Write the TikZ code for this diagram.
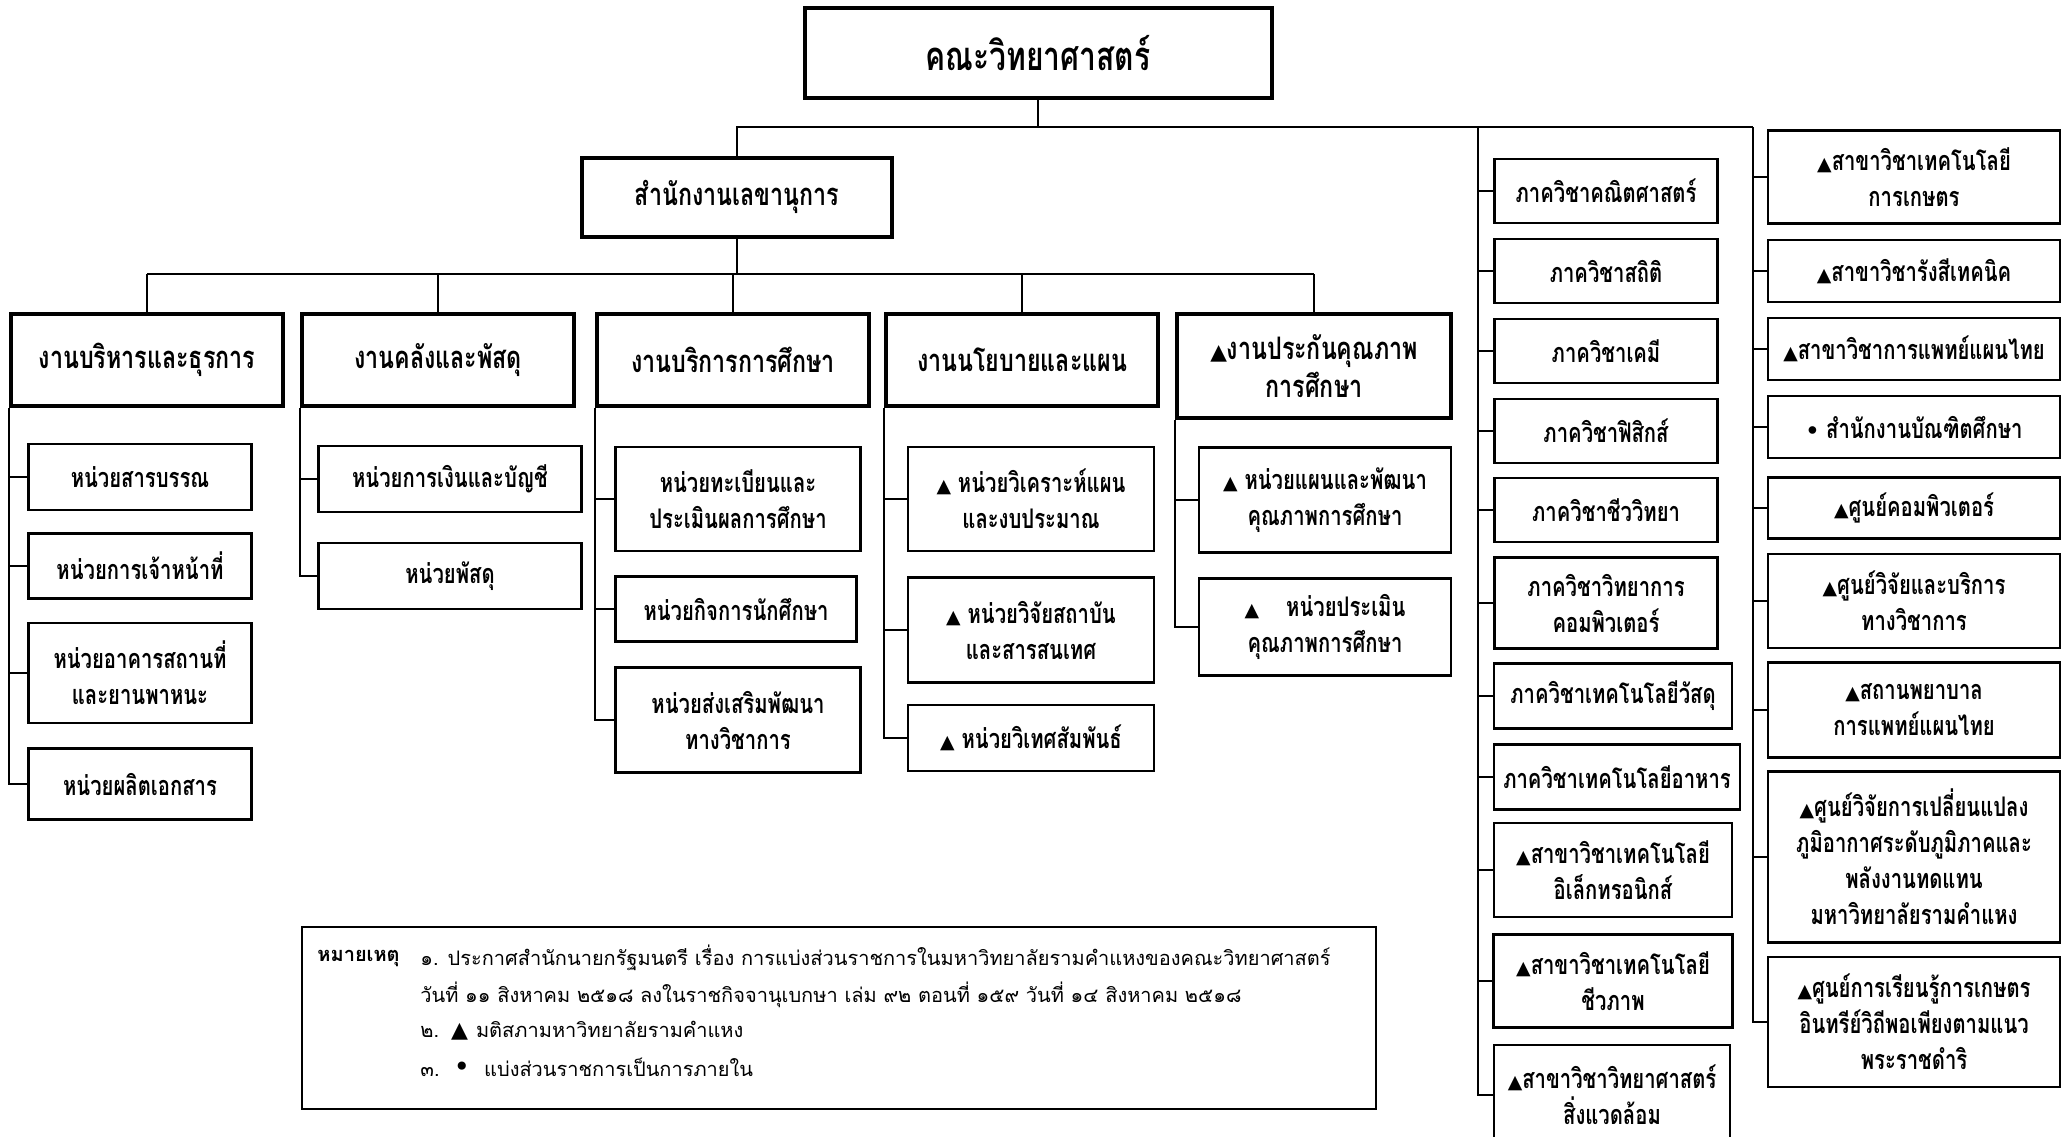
\documentclass[tikz,border=0pt]{standalone}
\usepackage{fontspec}
\usepackage{graphicx}
\setmainfont[Script=Thai, FakeStretch=0.75]{Loma}
\newfontfamily\notefont[Script=Thai]{Loma}
\newfontfamily\symfont{DejaVu Sans}
\newcommand\tmark{\scalebox{0.7}{\symfont ▲}}
\newcommand\bmark{\scalebox{0.8}{\symfont •}}
\tikzset{
  topbox/.style={draw, line width=2pt, inner sep=0pt, align=center, font={\bfseries\fontsize{20}{24}\selectfont}},
  headbox/.style={draw, line width=2pt, inner sep=0pt, align=center, font={\bfseries\fontsize{15.5}{19}\selectfont}},
  unitbox/.style={draw, line width=1.2pt, inner sep=0pt, align=center, font={\bfseries\fontsize{13.5}{18}\selectfont}},
  notebox/.style={draw, line width=1.2pt, inner sep=0pt},
  notetext/.style={inner sep=0pt, anchor=west, font={\notefont\fontsize{10}{12}\selectfont}},
  link/.style={line width=1pt},
  wh/.style 2 args={minimum width=#1*0.5pt, minimum height=#2*0.5pt},
}
\begin{document}
\begin{tikzpicture}[x=0.5pt, y=-0.5pt]
  \clip (0,0) rectangle (2070,1136);
  \fill[white] (0,0) rectangle (2070,1136);

  \node[topbox, wh={467}{90}] (top) at (1038,53) {คณะวิทยาศาสตร์};
  \node[headbox, wh={310}{79}] (sec) at (737,197) {สำนักงานเลขานุการ};

  \node[headbox, wh={272}{92}] (w1) at (147,360) {งานบริหารและธุรการ};
  \node[headbox, wh={272}{92}] (w2) at (438,360) {งานคลังและพัสดุ};
  \node[headbox, wh={272}{92}] (w3) at (733,360) {งานบริการการศึกษา};
  \node[headbox, wh={272}{92}] (w4) at (1022,360) {งานนโยบายและแผน};
  \node[headbox, wh={274}{104}] (w5) at (1314,366) {\tmark งานประกันคุณภาพ\\การศึกษา};

  \node[unitbox, wh={223}{66}] (c11) at (140,477) {หน่วยสารบรรณ};
  \node[unitbox, wh={223}{65}] (c12) at (140,566) {หน่วยการเจ้าหน้าที่};
  \node[unitbox, wh={223}{100}] (c13) at (140,673) {หน่วยอาคารสถานที่\\และยานพาหนะ};
  \node[unitbox, wh={223}{71}] (c14) at (140,784) {หน่วยผลิตเอกสาร};

  \node[unitbox, wh={263}{66}] (c21) at (450,479) {หน่วยการเงินและบัญชี};
  \node[unitbox, wh={263}{66}] (c22) at (450,576) {หน่วยพัสดุ};

  \node[unitbox, wh={245}{104}] (c31) at (738,499) {หน่วยทะเบียนและ\\ประเมินผลการศึกษา};
  \node[unitbox, wh={241}{65}] (c32) at (736,609) {หน่วยกิจการนักศึกษา};
  \node[unitbox, wh={245}{105}] (c33) at (738,720) {หน่วยส่งเสริมพัฒนา\\ทางวิชาการ};

  \node[unitbox, wh={246}{104}] (c41) at (1031,499) {\tmark\ หน่วยวิเคราะห์แผน\\และงบประมาณ};
  \node[unitbox, wh={246}{105}] (c42) at (1031,630) {\tmark\ หน่วยวิจัยสถาบัน\\และสารสนเทศ};
  \node[unitbox, wh={246}{66}] (c43) at (1031,738) {\tmark\ หน่วยวิเทศสัมพันธ์};

  \node[unitbox, wh={252}{105}] (c51) at (1325,500) {\tmark\ หน่วยแผนและพัฒนา\\คุณภาพการศึกษา};
  \node[unitbox, wh={252}{97}] (c52) at (1325,627) {\tmark\quad หน่วยประเมิน\\คุณภาพการศึกษา};

  \node[unitbox, wh={223}{64}] (d1) at (1606,191) {ภาควิชาคณิตศาสตร์};
  \node[unitbox, wh={223}{64}] (d2) at (1606,271) {ภาควิชาสถิติ};
  \node[unitbox, wh={223}{64}] (d3) at (1606,351) {ภาควิชาเคมี};
  \node[unitbox, wh={223}{64}] (d4) at (1606,431) {ภาควิชาฟิสิกส์};
  \node[unitbox, wh={223}{64}] (d5) at (1606,510) {ภาควิชาชีววิทยา};
  \node[unitbox, wh={223}{91}] (d6) at (1606,603) {ภาควิชาวิทยาการ\\คอมพิวเตอร์};
  \node[unitbox, wh={238}{65}] (d7) at (1613,696) {ภาควิชาเทคโนโลยีวัสดุ};
  \node[unitbox, wh={246}{65}] (d8) at (1617,777) {ภาควิชาเทคโนโลยีอาหาร};
  \node[unitbox, wh={238}{94}] (d9) at (1613,870) {\tmark สาขาวิชาเทคโนโลยี\\อิเล็กทรอนิกส์};
  \node[unitbox, wh={239}{93}] (d10) at (1613,981) {\tmark สาขาวิชาเทคโนโลยี\\ชีวภาพ};
  \node[unitbox, wh={236}{100}] (d11) at (1612,1095) {\tmark สาขาวิชาวิทยาศาสตร์\\สิ่งแวดล้อม};

  \node[unitbox, wh={292}{93}] (r1) at (1914,177) {\tmark สาขาวิชาเทคโนโลยี\\การเกษตร};
  \node[unitbox, wh={292}{62}] (r2) at (1914,271) {\tmark สาขาวิชารังสีเทคนิค};
  \node[unitbox, wh={292}{62}] (r3) at (1914,349) {\tmark สาขาวิชาการแพทย์แผนไทย};
  \node[unitbox, wh={292}{62}] (r4) at (1914,427) {\bmark\ สำนักงานบัณฑิตศึกษา};
  \node[unitbox, wh={292}{61}] (r5) at (1914,508) {\tmark ศูนย์คอมพิวเตอร์};
  \node[unitbox, wh={292}{94}] (r6) at (1914,601) {\tmark ศูนย์วิจัยและบริการ\\ทางวิชาการ};
  \node[unitbox, wh={292}{95}] (r7) at (1914,710) {\tmark สถานพยาบาล\\การแพทย์แผนไทย};
  \node[unitbox, wh={292}{171}] (r8) at (1914,857) {\tmark ศูนย์วิจัยการเปลี่ยนแปลง\\ภูมิอากาศระดับภูมิภาคและ\\พลังงานทดแทน\\มหาวิทยาลัยรามคำแหง};
  \node[unitbox, wh={292}{130}] (r9) at (1914,1022) {\tmark ศูนย์การเรียนรู้การเกษตร\\อินทรีย์วิถีพอเพียงตามแนว\\พระราชดำริ};

  \coordinate (jL) at (1478,127);
  \coordinate (jR) at (1753,127);
  \coordinate (jS) at (737,274);

  \draw[link] (top.south) -- (top.south |- jR);
  \draw[link] (sec.north) |- (jR);
  \foreach \i in {1,...,11} \draw[link] (jL) |- (d\i.west);
  \foreach \i in {1,...,9} \draw[link] (jR) |- (r\i.west);

  \draw[link] (sec.south) -- (jS);
  \draw[link] (w1.north |- jS) -- (w5.north |- jS);
  \foreach \i in {1,...,5} \draw[link] (w\i.north) -- (w\i.north |- jS);
  \foreach \c/\n in {1/4,2/2,3/3,4/3,5/2}
    \foreach \i in {1,...,\n} \draw[link] (w\c.south west) |- (c\c\i.west);

  \node[notebox, wh={1074}{182}] (note) at (839,1018) {};
  \node[notetext] (n0) at (317,958) {\bfseries หมายเหตุ};
  \node[notetext] (n1) at (420,958) {๑. ประกาศสำนักนายกรัฐมนตรี เรื่อง การแบ่งส่วนราชการในมหาวิทยาลัยรามคำแหงของคณะวิทยาศาสตร์};
  \node[notetext] (n2) at (420,995) {วันที่ ๑๑ สิงหาคม ๒๕๑๘ ลงในราชกิจจานุเบกษา เล่ม ๙๒ ตอนที่ ๑๕๙ วันที่ ๑๔ สิงหาคม ๒๕๑๘};
  \node[notetext] (n3) at (420,1031) {๒.\hspace{6pt}\scalebox{1.1}{\symfont ▲}\hspace{4pt}มติสภามหาวิทยาลัยรามคำแหง};
  \node[notetext] (n4) at (420,1067) {๓.\hspace{7pt}\scalebox{1.4}{\symfont •}\hspace{7pt}แบ่งส่วนราชการเป็นการภายใน};
\end{tikzpicture}
\end{document}
